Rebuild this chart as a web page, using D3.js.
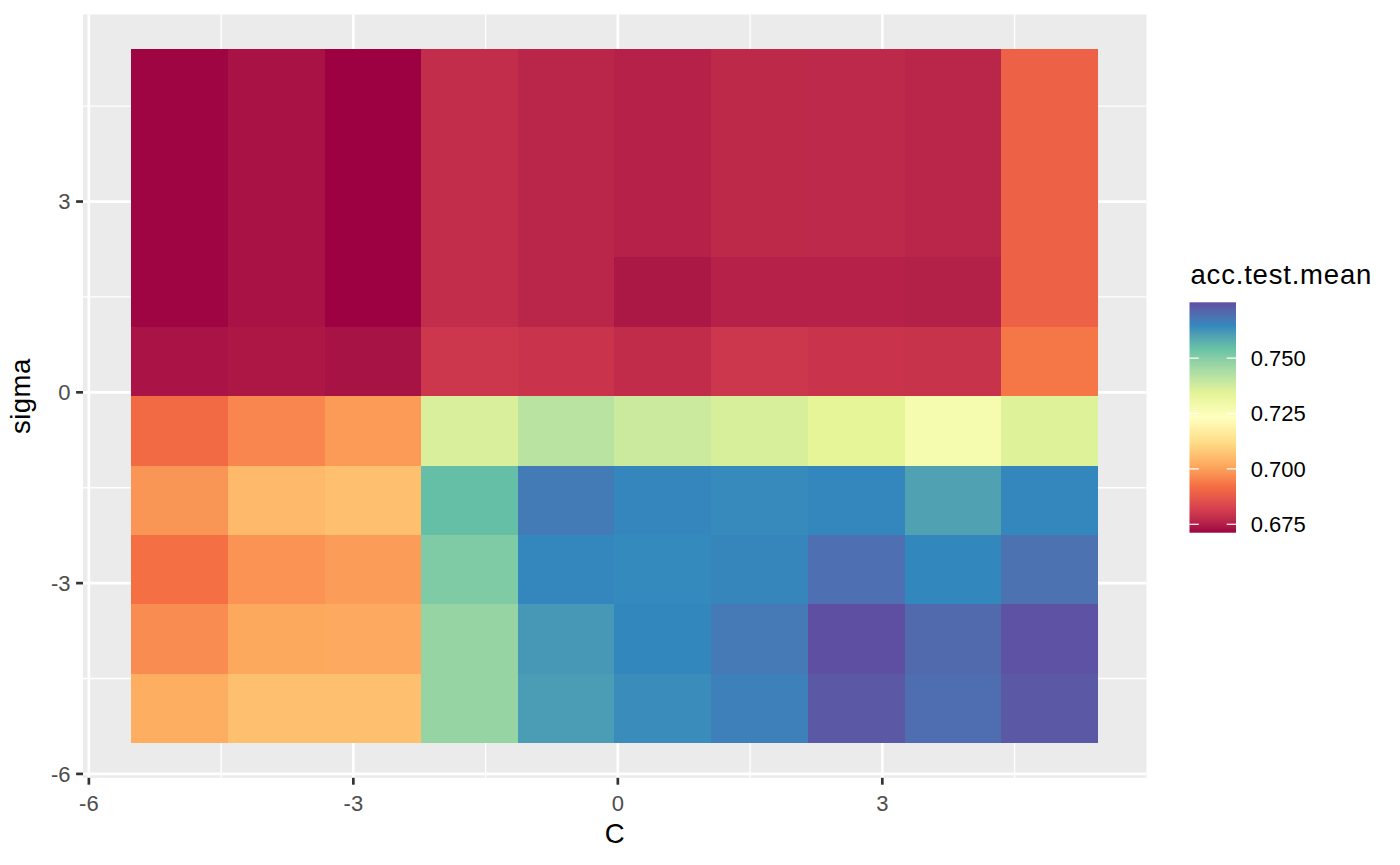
<!DOCTYPE html>
<html>
<head>
<meta charset="utf-8">
<script src="https://cdn.jsdelivr.net/npm/d3@7"></script>
<style>
  html, body { margin: 0; padding: 0; background: #ffffff; }
  svg { display: block; font-family: "Liberation Sans", Arial, Helvetica, sans-serif; }
</style>
</head>
<body>
<svg id="chart" width="1400" height="865"></svg>
<script>
// ---- data ----
const C = [-4.97, -3.87, -2.77, -1.68, -0.58, 0.51, 1.61, 2.71, 3.80, 4.90];
const sigma = [-4.97, -3.88, -2.79, -1.70, -0.61, 0.49, 1.58, 2.67, 3.76, 4.85];
// accTestMean[i][j] : sigma[i], C[j]
const accTestMean = [
  [0.7024, 0.7059, 0.7059, 0.7474, 0.7610, 0.7638, 0.7663, 0.7737, 0.7696, 0.7736],
  [0.6970, 0.7015, 0.7016, 0.7474, 0.7618, 0.7648, 0.7675, 0.7752, 0.7704, 0.7747],
  [0.6923, 0.6979, 0.6995, 0.7509, 0.7650, 0.7646, 0.7652, 0.7694, 0.7648, 0.7690],
  [0.6984, 0.7047, 0.7059, 0.7549, 0.7672, 0.7651, 0.7643, 0.7650, 0.7601, 0.7650],
  [0.6914, 0.6958, 0.6992, 0.7360, 0.7416, 0.7384, 0.7364, 0.7338, 0.7274, 0.7350],
  [0.6733, 0.6738, 0.6732, 0.6801, 0.6793, 0.6777, 0.6801, 0.6793, 0.6792, 0.6933],
  [0.6716, 0.6731, 0.6712, 0.6778, 0.6764, 0.6739, 0.6756, 0.6756, 0.6755, 0.6895],
  [0.6716, 0.6731, 0.6712, 0.6778, 0.6764, 0.6756, 0.6770, 0.6771, 0.6765, 0.6895],
  [0.6716, 0.6731, 0.6712, 0.6778, 0.6764, 0.6756, 0.6770, 0.6771, 0.6765, 0.6895],
  [0.6716, 0.6731, 0.6712, 0.6778, 0.6764, 0.6756, 0.6770, 0.6771, 0.6765, 0.6895]
];
const xTicks = [-6, -3, 0, 3];
const yTicks = [-6, -3, 0, 3];
const xMinor = [-4.5, -1.5, 1.5, 4.5];
const yMinor = [-4.5, -1.5, 1.5, 4.5];
const legendTicks = [0.675, 0.700, 0.725, 0.750];
const spectral = ["#9E0142", "#D53E4F", "#F46D43", "#FDAE61", "#FEE08B", "#FFFFBF",
                  "#E6F598", "#ABDDA4", "#66C2A5", "#3288BD", "#5E4FA2"];

// ---- layout ----
const panel = { left: 83, right: 1146.5, top: 14.5, bottom: 777.8 };
const svg = d3.select("#chart");

// tile sizes (like ggplot resolution)
const tw = (d3.max(C) - d3.min(C)) / (C.length - 1);
const th = (d3.max(sigma) - d3.min(sigma)) / (sigma.length - 1);
function expanded(lo, hi) { const e = (hi - lo) * 0.05; return [lo - e, hi + e]; }
const xDom = expanded(d3.min(C) - tw / 2, d3.max(C) + tw / 2);
const yDom = expanded(d3.min(sigma) - th / 2, d3.max(sigma) + th / 2);

const x = d3.scaleLinear().domain(xDom).range([panel.left, panel.right]);
const y = d3.scaleLinear().domain(yDom).range([panel.bottom, panel.top]);

const all = accTestMean.flat();
const ext = d3.extent(all);
const stops = spectral.map((_, i) => ext[0] + (ext[1] - ext[0]) * i / (spectral.length - 1));
const color = d3.scaleLinear().domain(stops).range(spectral).interpolate(d3.interpolateLab);

// panel background
svg.append("rect")
  .attr("x", panel.left).attr("y", panel.top)
  .attr("width", panel.right - panel.left).attr("height", panel.bottom - panel.top)
  .attr("fill", "#EBEBEB");

const grid = svg.append("g");
grid.selectAll(".xmin").data(xMinor).join("line")
  .attr("x1", d => x(d)).attr("x2", d => x(d))
  .attr("y1", panel.top).attr("y2", panel.bottom)
  .attr("stroke", "#fff").attr("stroke-width", 1.35);
grid.selectAll(".ymin").data(yMinor).join("line")
  .attr("y1", d => y(d)).attr("y2", d => y(d))
  .attr("x1", panel.left).attr("x2", panel.right)
  .attr("stroke", "#fff").attr("stroke-width", 1.35);
grid.selectAll(".xmaj").data(xTicks).join("line")
  .attr("x1", d => x(d)).attr("x2", d => x(d))
  .attr("y1", panel.top).attr("y2", panel.bottom)
  .attr("stroke", "#fff").attr("stroke-width", 2.7);
grid.selectAll(".ymaj").data(yTicks).join("line")
  .attr("y1", d => y(d)).attr("y2", d => y(d))
  .attr("x1", panel.left).attr("x2", panel.right)
  .attr("stroke", "#fff").attr("stroke-width", 2.7);

// tiles
const cells = [];
sigma.forEach((s, i) => C.forEach((c, j) => cells.push({ c, s, v: accTestMean[i][j] })));
svg.append("g").selectAll("rect").data(cells).join("rect")
  .attr("x", d => x(d.c - tw / 2))
  .attr("width", d => x(d.c + tw / 2) - x(d.c - tw / 2))
  .attr("y", d => y(d.s + th / 2))
  .attr("height", d => y(d.s - th / 2) - y(d.s + th / 2))
  .attr("fill", d => color(d.v))
  .attr("shape-rendering", "crispEdges");

// axes
const tickLen = 6.9, tickCol = "#333333", labCol = "#4D4D4D";
const ax = svg.append("g");
ax.selectAll(".xt").data(xTicks).join("line")
  .attr("x1", d => x(d)).attr("x2", d => x(d))
  .attr("y1", panel.bottom).attr("y2", panel.bottom + tickLen)
  .attr("stroke", tickCol).attr("stroke-width", 2.7);
ax.selectAll(".xl").data(xTicks).join("text")
  .attr("x", d => x(d)).attr("y", 811)
  .attr("text-anchor", "middle").attr("font-size", 22).attr("fill", labCol)
  .text(d => d3.format("d")(d).replace("−", "-"));
ax.selectAll(".yt").data(yTicks).join("line")
  .attr("y1", d => y(d)).attr("y2", d => y(d))
  .attr("x1", panel.left - tickLen).attr("x2", panel.left)
  .attr("stroke", tickCol).attr("stroke-width", 2.7);
ax.selectAll(".yl").data(yTicks).join("text")
  .attr("x", panel.left - tickLen - 5.5).attr("y", d => y(d) + 7.9)
  .attr("text-anchor", "end").attr("font-size", 22).attr("fill", labCol)
  .text(d => d3.format("d")(d).replace("−", "-"));

// axis titles
svg.append("text")
  .attr("x", (panel.left + panel.right) / 2).attr("y", 843)
  .attr("text-anchor", "middle").attr("font-size", 27.5).attr("fill", "#000")
  .text("C");
svg.append("text")
  .attr("transform", `translate(30,${(panel.top + panel.bottom) / 2}) rotate(-90)`)
  .attr("text-anchor", "middle").attr("font-size", 27.5).attr("fill", "#000")
  .attr("letter-spacing", 0.5)
  .text("sigma");

// legend
const leg = { x: 1189.5, top: 302.3, w: 46.5, h: 230.4 };
const defs = svg.append("defs");
const grad = defs.append("linearGradient").attr("id", "lg")
  .attr("x1", 0).attr("y1", 1).attr("x2", 0).attr("y2", 0);
d3.range(0, 101).forEach(k => {
  const v = ext[0] + (ext[1] - ext[0]) * k / 100;
  grad.append("stop").attr("offset", (k) + "%").attr("stop-color", color(v));
});
svg.append("text")
  .attr("x", 1190.5).attr("y", 283.5)
  .attr("font-size", 27.5).attr("fill", "#000")
  .attr("letter-spacing", 0.8)
  .text("acc.test.mean");
svg.append("rect")
  .attr("x", leg.x).attr("y", leg.top).attr("width", leg.w).attr("height", leg.h)
  .attr("fill", "url(#lg)");
const ly = d3.scaleLinear().domain(ext).range([leg.top + leg.h, leg.top]);
const lt = svg.append("g");
lt.selectAll(".l1").data(legendTicks).join("line")
  .attr("x1", leg.x).attr("x2", leg.x + leg.w / 5)
  .attr("y1", d => ly(d)).attr("y2", d => ly(d))
  .attr("stroke", "#fff").attr("stroke-width", 1.2);
lt.selectAll(".l2").data(legendTicks).join("line")
  .attr("x1", leg.x + leg.w * 4 / 5).attr("x2", leg.x + leg.w)
  .attr("y1", d => ly(d)).attr("y2", d => ly(d))
  .attr("stroke", "#fff").attr("stroke-width", 1.2);
lt.selectAll("text").data(legendTicks).join("text")
  .attr("x", 1250.7).attr("y", d => ly(d) + 7.9)
  .attr("font-size", 22).attr("fill", "#000")
  .text(d => d3.format(".3f")(d));
</script>
</body>
</html>
